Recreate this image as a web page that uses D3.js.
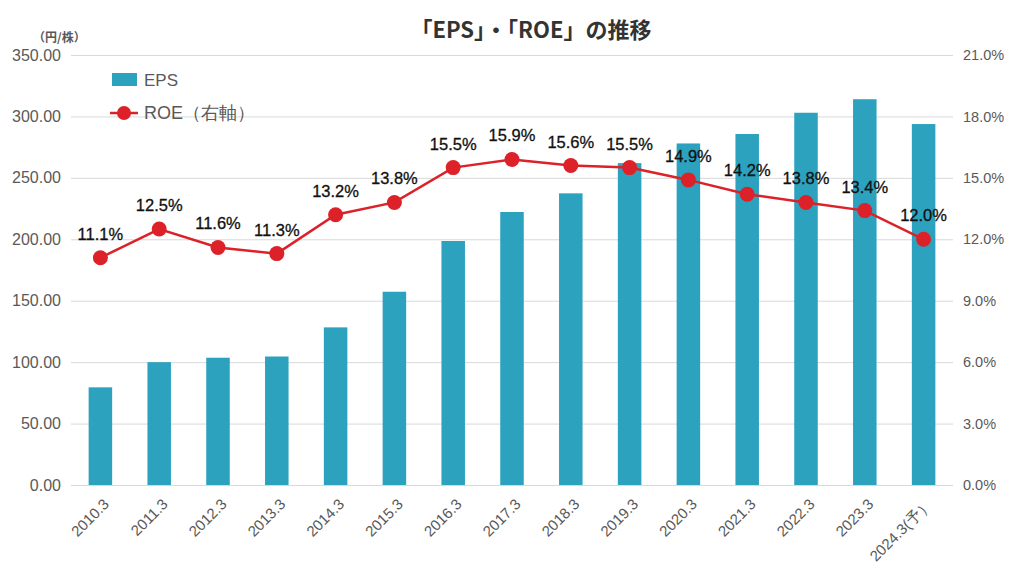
<!DOCTYPE html>
<html><head><meta charset="utf-8">
<script src="https://cdn.jsdelivr.net/npm/d3@7"></script>
<style>body{margin:0;background:#fff}svg{display:block}</style>
</head><body>
<svg id="c" width="1024" height="581"></svg>
<script>
const categories = ["2010.3","2011.3","2012.3","2013.3","2014.3","2015.3","2016.3","2017.3","2018.3","2019.3","2020.3","2021.3","2022.3","2023.3","2024.3(予）"];
const eps = [79.5,100,103.6,104.6,128.3,157.3,198.6,222.2,237.4,262,278,285.7,303,314,293.8];
const roe = [11.1,12.5,11.6,11.3,13.2,13.8,15.5,15.9,15.6,15.5,14.9,14.2,13.8,13.4,12.0];
const leftTicks = [0,50,100,150,200,250,300,350];
const rightTicks = [0,3,6,9,12,15,18,21];

const svg = d3.select("#c");
const font = "'Liberation Sans', Arial, sans-serif";
const L = 71, R = 953, T = 55, B = 485;
const x = d3.scaleBand().domain(categories).range([L, R]).paddingInner(0.6).paddingOuter(0.3);
const yL = d3.scaleLinear().domain([0,350]).range([B, T]);
const yR = d3.scaleLinear().domain([0,21]).range([B, T]);

// grid
svg.append("g").selectAll("line").data(leftTicks).join("line")
  .attr("x1", L).attr("x2", R).attr("y1", d=>yL(d)+0.5).attr("y2", d=>yL(d)+0.5)
  .attr("stroke", "#d9d9d9").attr("stroke-width", 1);

// left axis
const ga = svg.append("g").attr("transform", `translate(${L},0)`)
  .call(d3.axisLeft(yL).tickValues(leftTicks).tickFormat(d3.format(".2f")).tickSize(0).tickPadding(10));
ga.select(".domain").remove();
ga.selectAll("text").attr("font-family", font).attr("font-size", 16).attr("fill", "#595959");

// right axis
const gr = svg.append("g").attr("transform", `translate(${R},0)`)
  .call(d3.axisRight(yR).tickValues(rightTicks).tickFormat(d=>d.toFixed(1)+"%").tickSize(0).tickPadding(10));
gr.select(".domain").remove();
gr.selectAll("text").attr("font-family", font).attr("font-size", 14.5).attr("fill", "#595959");

// x axis
const gx = svg.append("g").attr("transform", `translate(0,${B})`)
  .call(d3.axisBottom(x).tickSize(0).tickPadding(12));
gx.select(".domain").remove();
gx.selectAll("text").attr("font-family", font).attr("font-size", 15).attr("fill", "#595959")
  .attr("text-anchor", "end").attr("dx", "-0.5em").attr("dy", "0.6em")
  .attr("transform", "rotate(-45)");

// bars
svg.append("g").selectAll("rect").data(eps).join("rect")
  .attr("x", (d,i)=>x(categories[i])).attr("width", x.bandwidth())
  .attr("y", d=>yL(d)).attr("height", d=>B - yL(d))
  .attr("fill", "#2ca2bf");

// line
const cx = i => x(categories[i]) + x.bandwidth()/2;
svg.append("path").datum(roe)
  .attr("d", d3.line().x((d,i)=>cx(i)).y(d=>yR(d)))
  .attr("fill", "none").attr("stroke", "#dc2128").attr("stroke-width", 2.5);
svg.append("g").selectAll("circle").data(roe).join("circle")
  .attr("cx", (d,i)=>cx(i)).attr("cy", d=>yR(d)).attr("r", 7.5).attr("fill", "#dc2128");
svg.append("g").selectAll("text").data(roe).join("text")
  .attr("x", (d,i)=>cx(i)).attr("y", d=>yR(d)-18)
  .attr("text-anchor", "middle").attr("font-family", font).attr("font-size", 16.5)
  .attr("fill", "#111").attr("stroke", "#111").attr("stroke-width", 0.3)
  .text(d=>d.toFixed(1)+"%");

// unit label
svg.append("text").attr("x", 33).attr("y", 42).attr("font-family", "'Noto Sans CJK JP', sans-serif")
  .attr("font-size", 12).attr("font-weight", "bold").attr("fill", "#595959").text("（円/株）");

// title
svg.append("text").attr("x", 531).attr("y", 38).attr("text-anchor", "middle")
  .attr("font-family", "'Noto Sans CJK JP', sans-serif").attr("font-size", 22).attr("font-weight", "bold")
  .attr("fill", "#333").text("「EPS」・「ROE」の推移");

// legend
svg.append("rect").attr("x", 112).attr("y", 73).attr("width", 25).attr("height", 13).attr("fill", "#2ca2bf");
svg.append("text").attr("x", 144).attr("y", 86).attr("font-family", font).attr("font-size", 17)
  .attr("fill", "#595959").text("EPS");
svg.append("line").attr("x1", 110).attr("x2", 138).attr("y1", 113).attr("y2", 113)
  .attr("stroke", "#dc2128").attr("stroke-width", 2.5);
svg.append("circle").attr("cx", 124).attr("cy", 113).attr("r", 7).attr("fill", "#dc2128");
svg.append("text").attr("x", 144).attr("y", 119).attr("font-family", font).attr("font-size", 18)
  .attr("fill", "#595959").text("ROE（右軸）");
</script>
</body></html>
